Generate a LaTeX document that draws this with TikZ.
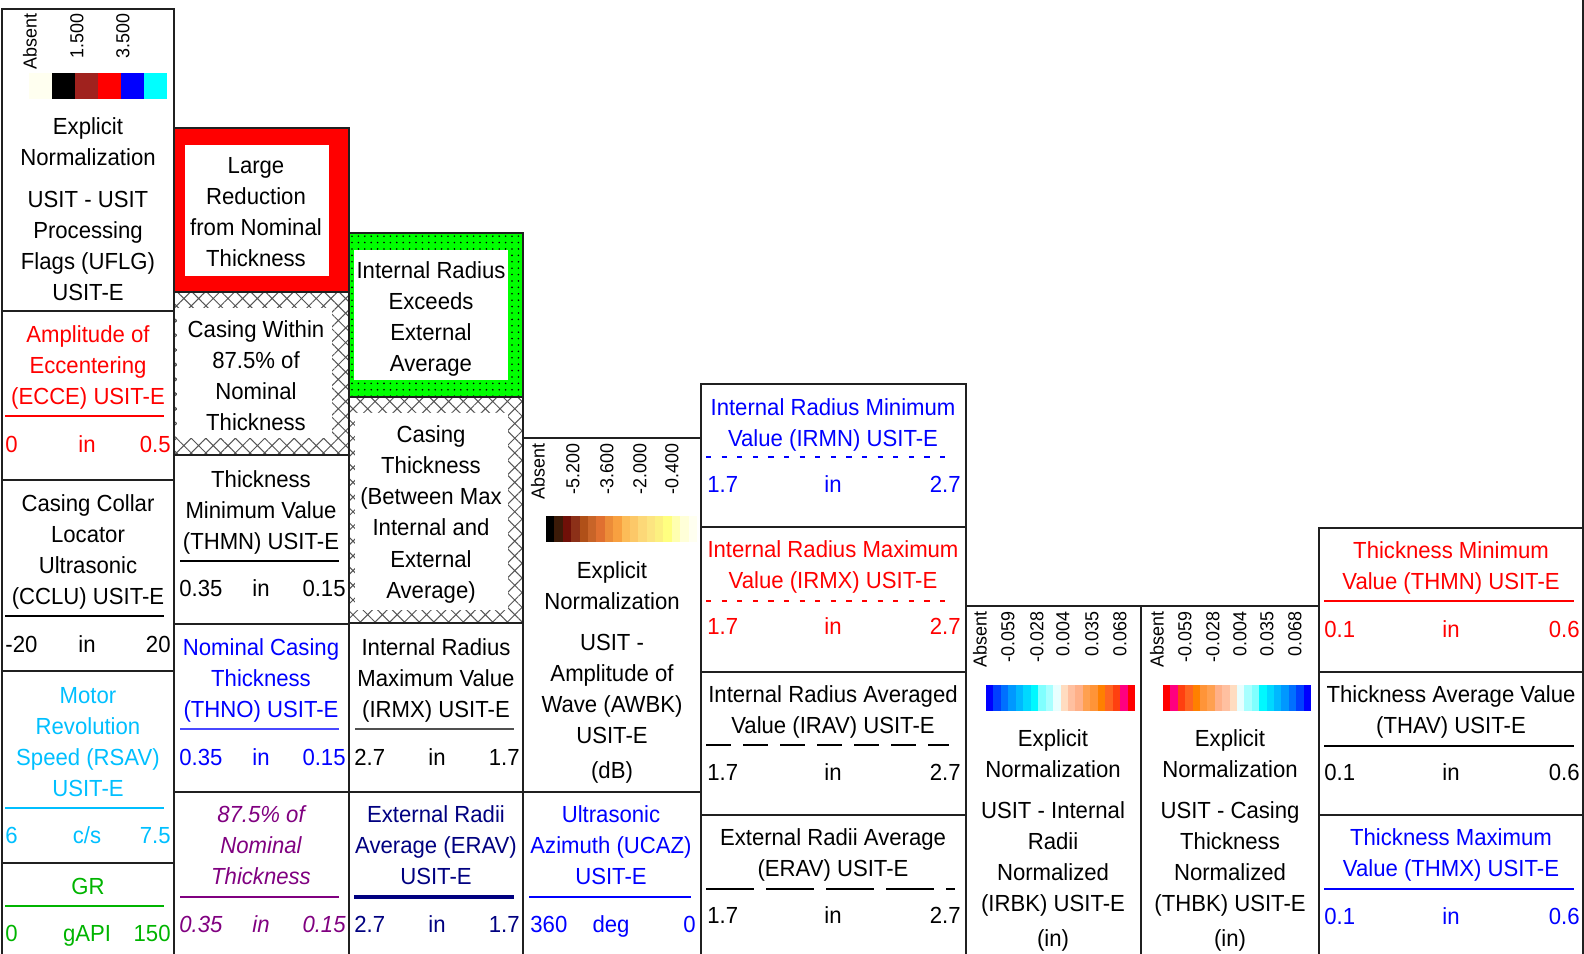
\documentclass[tikz,border=0pt]{standalone}
\usepackage{fontspec}
\setmainfont{Liberation Sans}[FakeStretch=0.95]
\usetikzlibrary{patterns.meta}
\definecolor{rsav}{HTML}{00BFFF}
\definecolor{grc}{HTML}{00B400}
\definecolor{purp}{HTML}{800080}
\definecolor{navyc}{HTML}{000080}
\definecolor{thnoc}{HTML}{4848FF}
\definecolor{grn}{HTML}{00FF00}
\definecolor{hatchc}{HTML}{555555}
\definecolor{framec}{HTML}{202020}
\definecolor{grayl}{HTML}{505050}
\tikzset{
  lbl/.style={inner sep=0pt,anchor=base,font=\fontsize{11.65pt}{15.5pt}\selectfont},
  itl/.style={font=\fontsize{11.65pt}{15.5pt}\selectfont\itshape},
  rotl/.style={inner sep=0pt,anchor=east,rotate=90,font=\fontsize{9.4pt}{11pt}\selectfont},
  frame/.style={draw=framec,line width=1pt},
  uline/.style={line width=0.7pt},
  hatchfill/.style={pattern={Hatch[angle=45,distance=5.2pt,line width=0.5pt]},pattern color=hatchc},
  dotfill/.style={pattern={Dots[distance=3.2pt,radius=0.45pt]},pattern color=black},
}
\newcommand\tlines[5]{\foreach \myl [count=\k] in {#5}{\node[lbl,#4] (#1\k) at (#2,{#3+(\k-1)*31.3}) {\myl};}}
\newcommand\scalerow[9]{%
  \node[lbl,#2,anchor=base west] (#1l) at (#4,#3) {#7};
  \node[lbl,#2] (#1c) at (#5,#3) {#8};
  \node[lbl,#2,anchor=base east] (#1r) at (#6,#3) {#9};}
\newcommand\rotlabels[3]{\foreach \xx/\tx [count=\k] in {#3}{\node[rotl] (#1\k) at (\xx,#2) {\tx};}}
\def\setcbc#1{\definecolor{tmpc}{HTML}{#1}}
\newcommand\cbar[5]{\foreach \h [count=\i from 0] in {#5}{\expandafter\setcbc\expandafter{\h}\fill[tmpc] ({#1+\i*#2},#3) rectangle ({#1+(\i+1)*#2+0.4},#4);}}
\begin{document}
\begin{tikzpicture}[x=0.5pt,y=-0.5pt]
\useasboundingbox (0,0) rectangle (1584,953);
% ---------- fills ----------
\fill[red] (174,128) rectangle (349,292);
\fill[white] (185,145) rectangle (329,276);
\fill[hatchfill] (174,292) rectangle (349,455);
\fill[white] (177,308) rectangle (332,438);
\fill[grn] (349,233) rectangle (523,397);
\fill[dotfill] (349,233) rectangle (523,397);
\fill[white] (354,250) rectangle (508,380);
\fill[hatchfill] (349,397) rectangle (523,623);
\fill[white] (355,413) rectangle (508,610);
% ---------- frames ----------
\foreach \a/\b in {9/311,311/480,480/671,671/863,863/962} \draw[frame] (2,\a) rectangle (174,\b);
\foreach \a/\b in {128/292,292/455,455/624,624/792,792/962} \draw[frame] (174,\a) rectangle (349,\b);
\foreach \a/\b in {233/397,397/623,623/792,792/962} \draw[frame] (349,\a) rectangle (523,\b);
\foreach \a/\b in {438/792,792/962} \draw[frame] (523,\a) rectangle (701,\b);
\foreach \a/\b in {384/527,527/672,672/815,815/962} \draw[frame] (701,\a) rectangle (966,\b);
\draw[frame] (966,606) rectangle (1141,962);
\draw[frame] (1141,606) rectangle (1319,962);
\foreach \a/\b in {528/672,672/815,815/962} \draw[frame] (1319,\a) rectangle (1583,\b);
\draw[frame] (1583,0) -- (1583,953);
% ---------- column 1 ----------
\rotlabels{ra}{13}{30/Absent,77/1.500,123/3.500}
\cbar{29}{23}{73}{99}{FFFFF0,000000,A0221E,FF0000,0000FF,00FFFF}
\tlines{a}{88}{134}{}{Explicit,Normalization}
\tlines{b}{88}{207}{}{USIT - USIT,Processing,{Flags (UFLG)},USIT-E}
\tlines{c}{88}{342}{red}{Amplitude of,Eccentering,{(ECCE) USIT-E}}
\draw[uline,red] (5,416) -- (164,416);
\scalerow{cs}{red}{452}{5}{87}{171}{0}{in}{0.5}
\tlines{d}{88}{511}{}{Casing Collar,Locator,Ultrasonic,{(CCLU) USIT-E}}
\draw[uline,black] (5,616) -- (164,616);
\scalerow{ds}{}{652}{5}{87}{171}{-20}{in}{20}
\tlines{e}{88}{703}{rsav}{Motor,Revolution,{Speed (RSAV)},USIT-E}
\draw[uline,rsav] (5,808) -- (164,808);
\scalerow{es}{rsav}{843}{5}{87}{171}{6}{c/s}{7.5}
\tlines{f}{88}{894}{grc}{GR}
\draw[uline,grc] (5,906) -- (164,906);
\scalerow{fs}{grc}{941}{5}{87}{171}{0}{gAPI}{150}
% ---------- column 2 ----------
\tlines{g}{256}{173}{}{Large,Reduction,from Nominal,Thickness}
\tlines{h}{256}{337}{}{Casing Within,87.5\% of,Nominal,Thickness}
\tlines{i}{261}{487}{}{Thickness,Minimum Value,{(THMN) USIT-E}}
\draw[uline,black] (180,561) -- (339,561);
\scalerow{is}{}{596}{179}{261}{346}{0.35}{in}{0.15}
\tlines{j}{261}{655}{blue}{Nominal Casing,Thickness,{(THNO) USIT-E}}
\draw[line width=1.1pt,thnoc] (180,729) -- (339,729);
\scalerow{js}{blue}{765}{179}{261}{346}{0.35}{in}{0.15}
\tlines{k}{261}{822}{purp,itl}{87.5\% of,Nominal,Thickness}
\draw[uline,purp] (180,897) -- (339,897);
\scalerow{ks}{purp,itl}{932}{179}{261}{346}{0.35}{in}{0.15}
% ---------- column 3 ----------
\tlines{l}{431}{278}{}{Internal Radius,Exceeds,External,Average}
\tlines{m}{431}{442}{}{Casing,Thickness,{(Between Max},Internal and,External,{Average)}}
\tlines{n}{436}{655}{}{Internal Radius,Maximum Value,{(IRMX) USIT-E}}
\draw[line width=1pt,grayl] (355,729) -- (514,729);
\scalerow{ns}{}{765}{354}{437}{520}{2.7}{in}{1.7}
\tlines{o}{436}{822}{navyc}{External Radii,{Average (ERAV)},USIT-E}
\draw[line width=1.8pt,navyc] (354,897) -- (514,897);
\scalerow{os}{navyc}{932}{354}{437}{520}{2.7}{in}{1.7}
% ---------- column 4 ----------
\rotlabels{rb}{443}{538/Absent,573/-5.200,607/-3.600,640/-2.000,672/-0.400}
\cbar{546}{8.39}{516}{542}{000000,3C1A08,701008,8C3018,B05018,C86428,E07030,EC8C38,F8A040,FCBC58,FCC868,FCD878,FCE480,FCF080,FFFF80,FFFFB0,FFFFD8,FFFFF0}
\tlines{p}{612}{578}{}{Explicit,Normalization}
\tlines{q}{612}{650}{}{USIT -,Amplitude of,{Wave (AWBK)},USIT-E}
\tlines{r}{612}{778}{}{{(dB)}}
\tlines{s}{611}{822}{blue}{Ultrasonic,{Azimuth (UCAZ)},USIT-E}
\draw[uline,blue] (529,897) -- (691,897);
\scalerow{ss}{blue}{932}{530}{611}{696}{360}{deg}{0}
% ---------- column 5 ----------
\tlines{t}{833}{415}{blue}{Internal Radius Minimum,{Value (IRMN) USIT-E}}
\draw[line width=1pt,blue,dash pattern=on 2.6pt off 5.2pt] (706,457) -- (945,457);
\scalerow{ts}{blue}{492}{707}{833}{961}{1.7}{in}{2.7}
\tlines{u}{833}{557}{red}{Internal Radius Maximum,{Value (IRMX) USIT-E}}
\draw[line width=1pt,red,dash pattern=on 2.6pt off 5.2pt] (706,601) -- (945,601);
\scalerow{us}{red}{634}{707}{833}{961}{1.7}{in}{2.7}
\tlines{v}{833}{702}{}{Internal Radius Averaged,{Value (IRAV) USIT-E}}
\draw[line width=1pt,dash pattern=on 12.5pt off 6pt] (706,745) -- (949,745);
\scalerow{vs}{}{780}{707}{833}{961}{1.7}{in}{2.7}
\tlines{w}{833}{845}{}{External Radii Average,{(ERAV) USIT-E}}
\draw[line width=1pt,dash pattern=on 24pt off 6pt] (706,889) -- (955,889);
\scalerow{ws}{}{923}{707}{833}{961}{1.7}{in}{2.7}
% ---------- column 6 ----------
\rotlabels{rc}{611}{980/Absent,1008/-0.059,1037/-0.028,1063/0.004,1092/0.035,1120/0.068}
\cbar{986}{7.45}{685}{711}{0000FF,0040FF,0070FF,0098FF,00B8FF,00D8FF,00F8FF,80FFFF,A8FFFF,E8FFFF,FFDCC0,FFC0A0,FFB088,FFA050,FF9438,FF8000,FF6420,FF4010,FF0080,FF0000}
\tlines{x}{1053}{746}{}{Explicit,Normalization}
\tlines{y}{1053}{818}{}{USIT - Internal,Radii,Normalized,{(IRBK) USIT-E}}
\tlines{z}{1053}{946}{}{{(in)}}
% ---------- column 7 ----------
\rotlabels{rd}{611}{1157/Absent,1185/-0.059,1213/-0.028,1240/0.004,1267/0.035,1295/0.068}
\cbar{1163}{7.4}{685}{711}{FF0000,FF0080,FF4010,FF6420,FF8000,FF9438,FFA050,FFB088,FFC0A0,FFDCC0,E8FFFF,A8FFFF,80FFFF,00F8FF,00D8FF,00B8FF,0098FF,0070FF,0040FF,0000FF}
\tlines{aa}{1230}{746}{}{Explicit,Normalization}
\tlines{ab}{1230}{818}{}{USIT - Casing,Thickness,Normalized,{(THBK) USIT-E}}
\tlines{ac}{1230}{946}{}{{(in)}}
% ---------- column 8 ----------
\tlines{ad}{1451}{558}{red}{Thickness Minimum,{Value (THMN) USIT-E}}
\draw[uline,red] (1324,601) -- (1574,601);
\scalerow{ads}{red}{637}{1324}{1451}{1580}{0.1}{in}{0.6}
\tlines{ae}{1451}{702}{}{Thickness Average Value,{(THAV) USIT-E}}
\draw[uline,black] (1324,746) -- (1574,746);
\scalerow{aes}{}{780}{1324}{1451}{1580}{0.1}{in}{0.6}
\tlines{af}{1451}{845}{blue}{Thickness Maximum,{Value (THMX) USIT-E}}
\draw[uline,blue] (1324,889) -- (1574,889);
\scalerow{afs}{blue}{924}{1324}{1451}{1580}{0.1}{in}{0.6}
\end{tikzpicture}
\end{document}
